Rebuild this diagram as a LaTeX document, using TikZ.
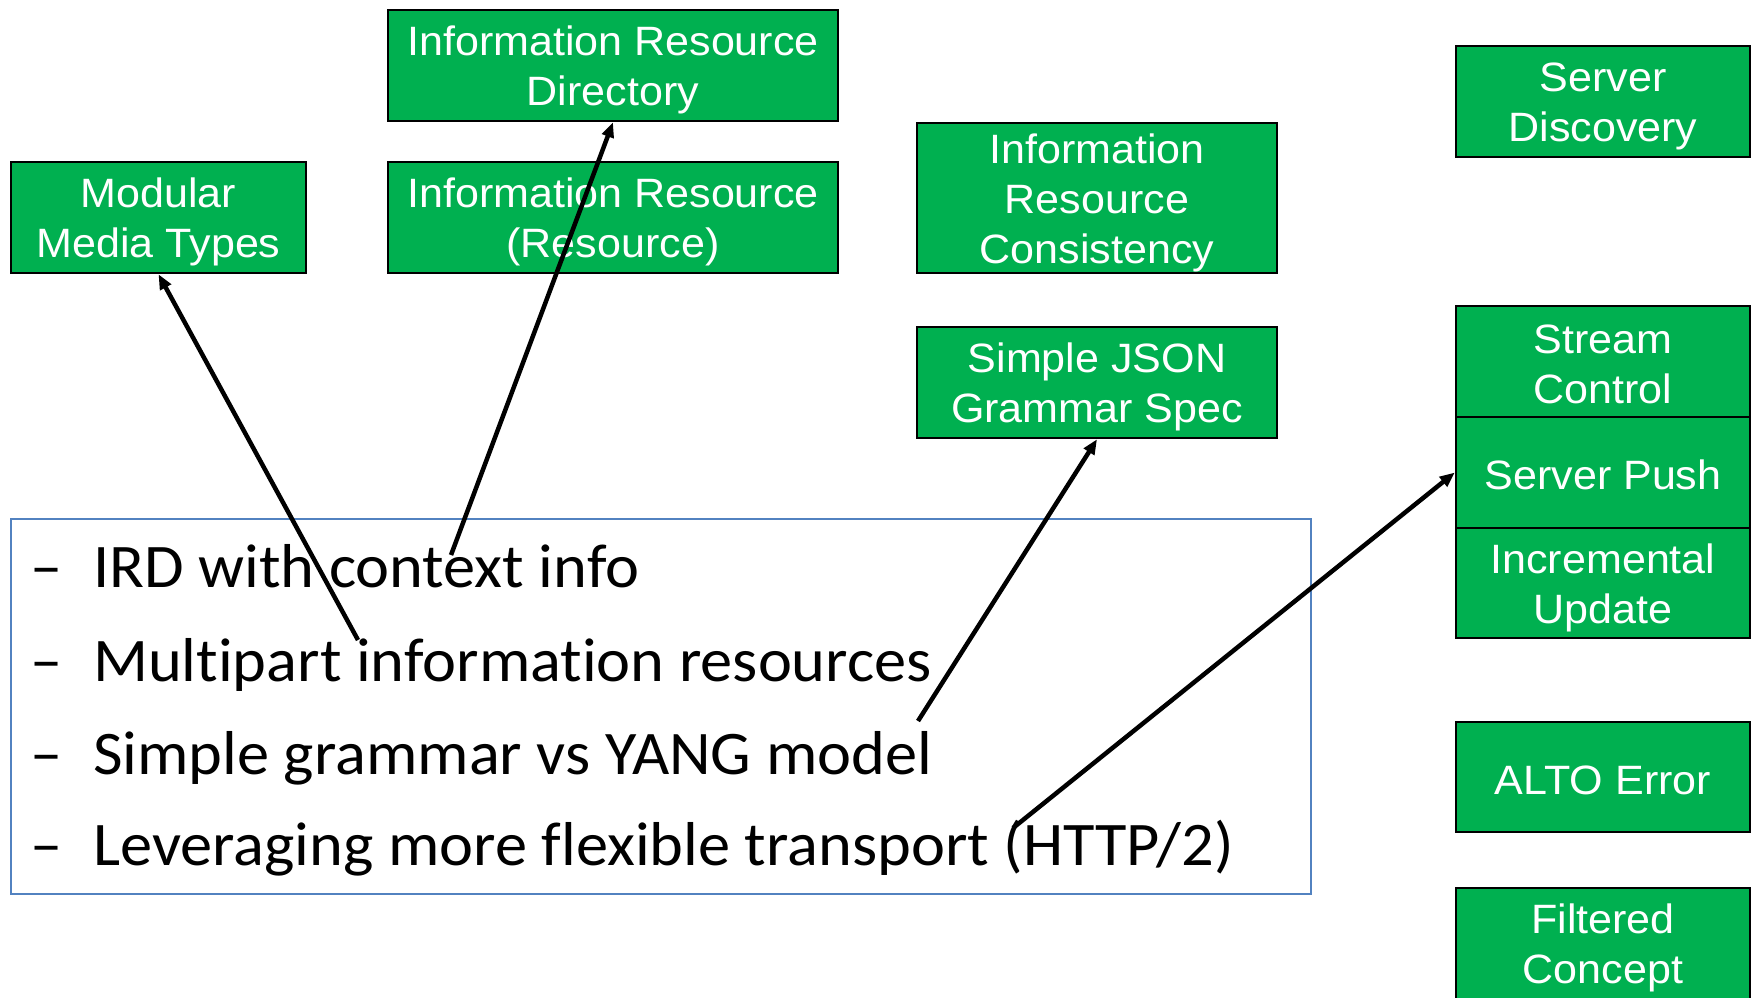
\documentclass[tikz,border=0pt]{standalone}
\usepackage{fontspec}
\setmainfont{Liberation Sans}
\newfontfamily\boxfont[FakeStretch=1.05]{Liberation Sans}
\newfontfamily\listfont[FakeStretch=1.038,Ligatures=NoCommon]{Carlito}
\usetikzlibrary{arrows.meta}
\definecolor{boxgreen}{HTML}{00B050}
\definecolor{frameblue}{HTML}{5282C0}
% invisible struts: room above the first line, below the last one
\newcommand\tp{\rule{0pt}{39pt}}
\newcommand\bt{\rule[-5pt]{0pt}{5pt}}
\tikzset{
  greenbox/.style={draw=black, line width=2.5pt, fill=boxgreen, text=white,
    align=center, inner sep=0pt, minimum height=111pt,
    font=\boxfont\fontsize{41}{50}\selectfont},
  listframe/.style={draw=frameblue, line width=2pt, inner sep=0pt},
  listline/.style={anchor=base west, inner sep=0pt,
    font=\listfont\fontsize{62}{74}\selectfont},
  link/.style={line width=4.5pt, -{Triangle[length=15pt,width=12pt]}},
}
\begin{document}
\begin{tikzpicture}[x=1pt,y=-1pt]
\useasboundingbox (0,0) rectangle (1752,997);
\clip (0,0) rectangle (1752,997);

% left and middle columns
\node (mmt) [greenbox, minimum width=295pt] at (158.5,217.5) {\tp Modular\\Media Types\bt};
\node (ird) [greenbox, minimum width=450pt] at (613,65.5) {\tp Information Resource\\Directory\bt};
\node (irr) [greenbox, minimum width=450pt] at (613,217.5) {\tp Information Resource\\(Resource)\bt};
\node (irc) [greenbox, minimum width=360pt, minimum height=150pt] at (1097,198) {\tp Information\\Resource\\Consistency\bt};
\node (sjg) [greenbox, minimum width=360pt] at (1097,382.5) {\tp Simple JSON\\Grammar Spec\bt};

% right column
\node (sd) [greenbox, minimum width=294pt] at (1603,101.5) {\tp Server\\Discovery\bt};
\node (sc) [greenbox, minimum width=294pt] at (1603,361.5) {\tp Stream\\Control\bt};
\node (sp) [greenbox, minimum width=294pt] at (1603,472.5) {\tp Server Push\bt};
\node (iu) [greenbox, minimum width=294pt, minimum height=110pt] at (1603,583) {\tp Incremental\\Update\bt};
\node (ae) [greenbox, minimum width=294pt, minimum height=110pt] at (1603,777) {\tp ALTO Error\bt};
\node (fc) [greenbox, minimum width=294pt] at (1603,943.5) {\tp Filtered\\Concept\bt};

% bullet list
\node (list) [listframe, minimum width=1300pt, minimum height=375pt] at (661,706.5) {};
\node (l1) [listline] at (30,587) {\makebox[63pt][l]{–}IRD with context info};
\node (l2) [listline] at (30,681) {\makebox[63pt][l]{–}Multipart information resources};
\node (l3) [listline] at (30,774) {\makebox[63pt][l]{–}Simple grammar vs YANG model};
\node (l4) [listline] at (30,865) {\makebox[63pt][l]{–}Leveraging more flexible transport (HTTP/2)};

% connectors from the list items to the boxes
\coordinate (s1) at (358,640);
\coordinate (s2) at (451,555);
\coordinate (s3) at (918,721);
\coordinate (s4) at (1013,828);
\draw[link] (s1) -- (mmt.south);
\draw[link] (s2) -- (ird.south);
\draw[link] (s3) -- (sjg.south);
\draw[link] (s4) -- (sp.west);
\end{tikzpicture}
\end{document}
